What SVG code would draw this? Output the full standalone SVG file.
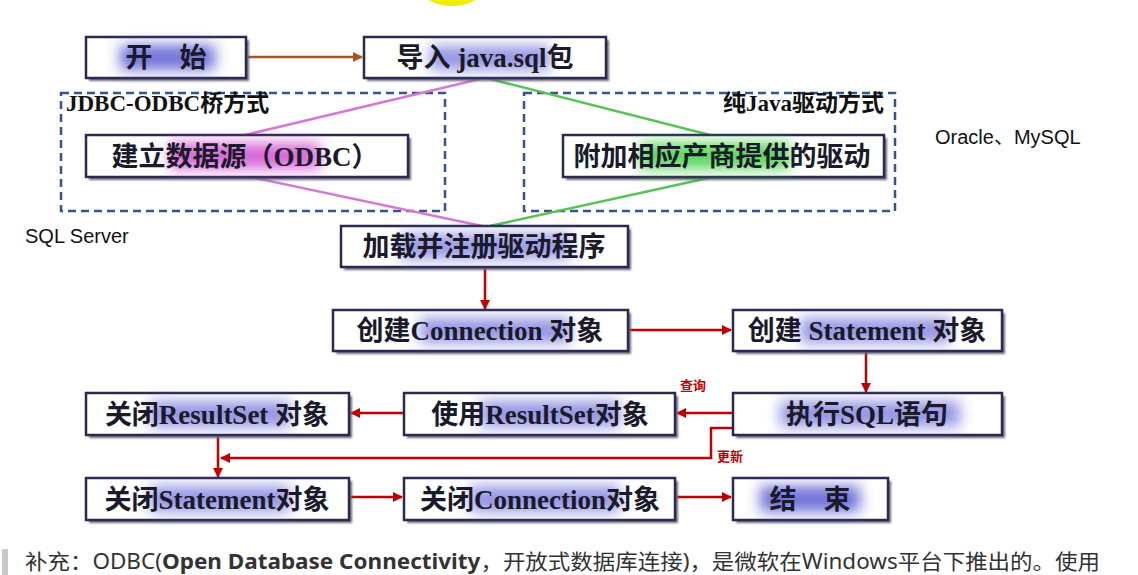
<svg xmlns="http://www.w3.org/2000/svg" width="1138" height="575" viewBox="0 0 1138 575">
<defs>
<style>
.box{fill:#fff;stroke:#2a2a50;stroke-width:2.5}
.shadow{fill:#6a6a78;filter:url(#sb)}
.t{font-family:"Liberation Serif","Noto Sans CJK SC",serif;font-weight:bold;font-size:27px;fill:#1a1a2a;text-anchor:middle}
.lab{font-family:"Liberation Serif","Noto Sans CJK SC",serif;font-weight:bold;font-size:23px;fill:#111}
.sans{font-family:"Liberation Sans","Noto Sans CJK SC",sans-serif;font-size:20px;fill:#111}
.dash{fill:none;stroke:#35538f;stroke-width:2.5;stroke-dasharray:8 5}
.red{fill:none;stroke:#c00000;stroke-width:2.5}
.redt{font-family:"Noto Sans CJK SC",sans-serif;font-size:13px;fill:#c00000;font-weight:bold}
</style>
<filter id="hb" x="-30%" y="-60%" width="160%" height="220%"><feGaussianBlur stdDeviation="7"/></filter>
<filter id="sb" x="-10%" y="-30%" width="120%" height="160%"><feGaussianBlur stdDeviation="1.2"/></filter>
<marker id="ar" viewBox="0 0 10 10" refX="9" refY="5" markerWidth="4" markerHeight="4" orient="auto"><path d="M0,0 L10,5 L0,10 z" fill="#c00000"/></marker>
<marker id="ao" viewBox="0 0 10 10" refX="9" refY="5" markerWidth="4" markerHeight="4" orient="auto"><path d="M0,0 L10,5 L0,10 z" fill="#b05020"/></marker>
</defs>
<rect width="1138" height="575" fill="#fff"/>
<ellipse cx="452" cy="-14" rx="32" ry="20" fill="#eeee00"/>

<g id="groups">
<rect class="dash" x="61" y="93" width="384" height="118"/>
<text class="lab" x="66" y="111">JDBC-ODBC桥方式</text>
<rect class="dash" x="524" y="93" width="371" height="118"/>
<text class="lab" x="884" y="111" text-anchor="end">纯Java驱动方式</text>
<text class="sans" x="935" y="144">Oracle、MySQL</text>
<text class="sans" x="25" y="243">SQL Server</text>
</g>

<g id="connectors">
<path d="M480,79 L245,135" stroke="#d47ad4" stroke-width="2.5" fill="none"/>
<path d="M250,177 L482,226" stroke="#d47ad4" stroke-width="2.5" fill="none"/>
<path d="M490,79 L710,135" stroke="#55c455" stroke-width="2.5" fill="none"/>
<path d="M713,177 L490,226" stroke="#55c455" stroke-width="2.5" fill="none"/>
<path d="M247,57 L362,57" stroke="#b05020" stroke-width="2.5" fill="none" marker-end="url(#ao)"/>
<path class="red" d="M485,268 V309" marker-end="url(#ar)"/>
<path class="red" d="M629,330 H731" marker-end="url(#ar)"/>
<path class="red" d="M866,352 V392" marker-end="url(#ar)"/>
<path class="red" d="M732,413 H677" marker-end="url(#ar)"/>
<path class="red" d="M403,413 H351" marker-end="url(#ar)"/>
<path class="red" d="M733,428 H711 V458 H221" marker-end="url(#ar)"/>
<path class="red" d="M218,436 V477" marker-end="url(#ar)"/>
<path class="red" d="M350,497 H402" marker-end="url(#ar)"/>
<path class="red" d="M676,497 H731" marker-end="url(#ar)"/>
<text class="redt" x="680" y="390">查询</text>
<text class="redt" x="717" y="461">更新</text>
</g>

<g id="n-start">
<rect class="shadow" x="89" y="40" width="160" height="41"/>
<rect class="box" x="86" y="37" width="160" height="41"/>
<rect x="120" y="45" width="95" height="25" fill="#5a5ad0" opacity="0.85" filter="url(#hb)"/>
<text class="t" x="166" y="67">开　始</text>
</g>
<g id="n-import">
<rect class="shadow" x="367" y="40" width="242" height="41"/>
<rect class="box" x="364" y="37" width="242" height="41"/>
<rect x="430" y="46" width="120" height="24" fill="#6a6ad8" opacity="0.7" filter="url(#hb)"/>
<text class="t" x="485" y="67">导入 java.sql包</text>
</g>
<g id="n-odbc">
<rect class="shadow" x="89" y="138" width="322" height="42"/>
<rect class="box" x="86" y="135" width="322" height="42"/>
<rect x="170" y="143" width="150" height="26" fill="#d050d0" opacity="0.85" filter="url(#hb)"/>
<text class="t" x="245" y="166">建立数据源（ODBC）</text>
</g>
<g id="n-vendor">
<rect class="shadow" x="566" y="138" width="321" height="42"/>
<rect class="box" x="563" y="135" width="321" height="42"/>
<rect x="640" y="143" width="150" height="26" fill="#40d040" opacity="0.85" filter="url(#hb)"/>
<text class="t" x="722" y="166">附加相应产商提供的驱动</text>
</g>
<g id="n-load">
<rect class="shadow" x="344" y="229" width="287" height="41"/>
<rect class="box" x="341" y="226" width="287" height="41"/>
<rect x="400" y="234" width="170" height="25" fill="#7070d8" opacity="0.7" filter="url(#hb)"/>
<text class="t" x="484" y="256">加载并注册驱动程序</text>
</g>
<g id="n-conn">
<rect class="shadow" x="336" y="313" width="295" height="41"/>
<rect class="box" x="333" y="310" width="295" height="41"/>
<rect x="420" y="318" width="150" height="25" fill="#6a6ad8" opacity="0.7" filter="url(#hb)"/>
<text class="t" x="480" y="340">创建Connection 对象</text>
</g>
<g id="n-stmt">
<rect class="shadow" x="736" y="313" width="269" height="41"/>
<rect class="box" x="733" y="310" width="269" height="41"/>
<rect x="800" y="318" width="150" height="25" fill="#6a6ad8" opacity="0.7" filter="url(#hb)"/>
<text class="t" x="867" y="340">创建 Statement 对象</text>
</g>
<g id="n-exec">
<rect class="shadow" x="736" y="396" width="269" height="42"/>
<rect class="box" x="733" y="393" width="269" height="42"/>
<rect x="780" y="401" width="180" height="26" fill="#6a6ad8" opacity="0.7" filter="url(#hb)"/>
<text class="t" x="867" y="424">执行SQL语句</text>
</g>
<g id="n-use-rs">
<rect class="shadow" x="407" y="396" width="271" height="42"/>
<rect class="box" x="404" y="393" width="271" height="42"/>
<rect x="480" y="401" width="140" height="26" fill="#6a6ad8" opacity="0.7" filter="url(#hb)"/>
<text class="t" x="540" y="424">使用ResultSet对象</text>
</g>
<g id="n-close-rs">
<rect class="shadow" x="89" y="396" width="263" height="42"/>
<rect class="box" x="86" y="393" width="263" height="42"/>
<rect x="150" y="401" width="140" height="26" fill="#6a6ad8" opacity="0.7" filter="url(#hb)"/>
<text class="t" x="217" y="424">关闭ResultSet 对象</text>
</g>
<g id="n-close-stmt">
<rect class="shadow" x="89" y="481" width="263" height="42"/>
<rect class="box" x="86" y="478" width="263" height="42"/>
<rect x="150" y="486" width="140" height="26" fill="#6a6ad8" opacity="0.7" filter="url(#hb)"/>
<text class="t" x="217" y="509">关闭Statement对象</text>
</g>
<g id="n-close-conn">
<rect class="shadow" x="407" y="481" width="271" height="42"/>
<rect class="box" x="404" y="478" width="271" height="42"/>
<rect x="470" y="486" width="150" height="26" fill="#6a6ad8" opacity="0.7" filter="url(#hb)"/>
<text class="t" x="540" y="509">关闭Connection对象</text>
</g>
<g id="n-end">
<rect class="shadow" x="736" y="481" width="155" height="42"/>
<rect class="box" x="733" y="478" width="155" height="42"/>
<rect x="760" y="486" width="100" height="26" fill="#5a5ad0" opacity="0.85" filter="url(#hb)"/>
<text class="t" x="810" y="509">结　束</text>
</g>

<g id="footnote">
<rect x="2" y="549" width="6" height="26" fill="#c8c8c8"/>
<text x="25" y="569" font-family="'Noto Sans','Noto Sans CJK SC',sans-serif" font-size="21" fill="#333" textLength="1075" lengthAdjust="spacingAndGlyphs">补充：ODBC(<tspan font-weight="bold">Open Database Connectivity</tspan>，开放式数据库连接)，是微软在Windows平台下推出的。使用</text>
</g>
</svg>
